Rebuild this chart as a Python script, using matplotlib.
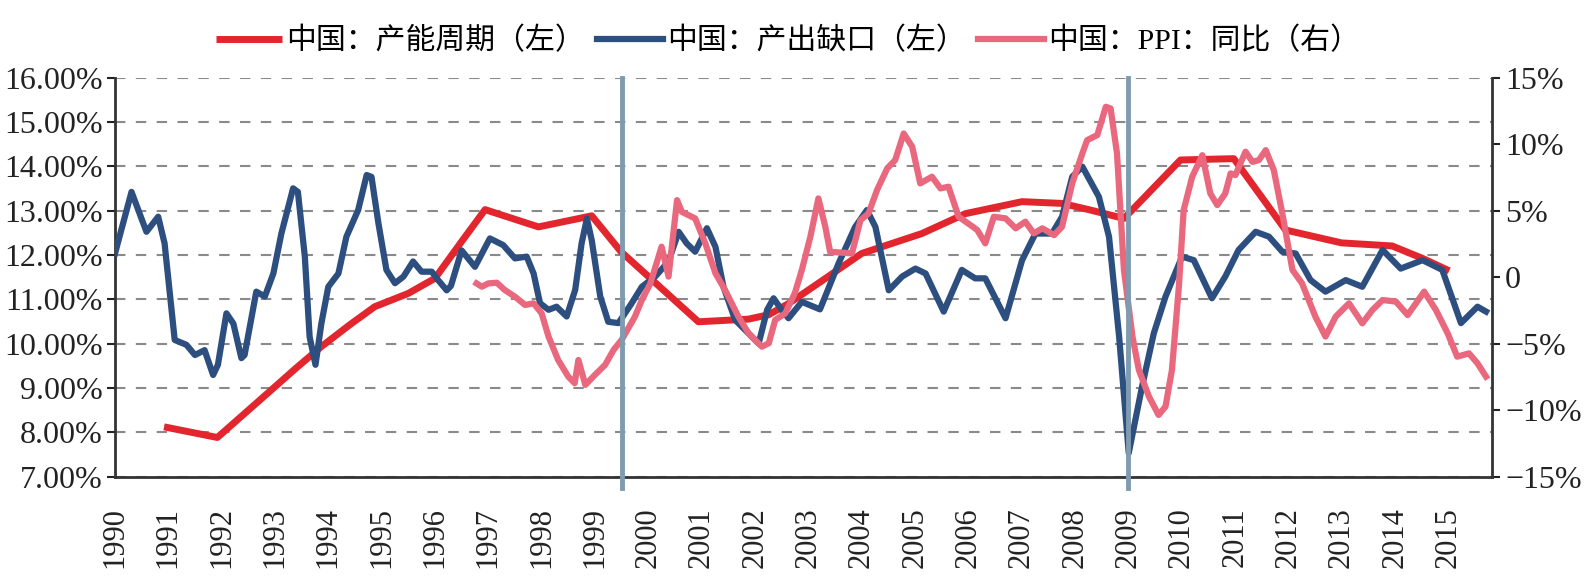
import numpy as np
import matplotlib.pyplot as plt
from matplotlib.ticker import FuncFormatter

plt.rcParams['font.family'] = ['Liberation Serif', 'Noto Sans CJK SC']

# 中国：产能周期（左）
cap_year = [1990.92, 1991.92, 1992.93, 1993.4, 1993.87, 1994.4, 1994.87, 1995.5, 1996.0, 1996.5,
            1996.94, 1997.94, 1998.94, 1999.49, 2000.94, 2001.88, 2002.26, 2002.63, 2003.3,
            2004.0, 2005.13, 2005.95, 2007.01, 2007.76, 2008.26, 2008.92, 2009.98, 2010.98,
            2011.95, 2013.0, 2013.95, 2014.52, 2015.02]
cap_val = [8.12, 7.88, 8.95, 9.45, 9.93, 10.42, 10.83, 11.13, 11.47, 12.3,
           13.02, 12.63, 12.88, 12.07, 10.49, 10.55, 10.65, 10.9, 11.45,
           12.03, 12.48, 12.93, 13.2, 13.16, 13.02, 12.82, 14.14, 14.17,
           12.56, 12.27, 12.2, 11.92, 11.64]

# 中国：产出缺口（左）
gap_year = [1990.0, 1990.31, 1990.59, 1990.81, 1990.93, 1991.12, 1991.34, 1991.5, 1991.68, 1991.84,
            1991.93, 1992.09, 1992.22, 1992.37, 1992.43, 1992.65, 1992.81, 1992.97, 1993.12, 1993.34,
            1993.43, 1993.56, 1993.65, 1993.76, 1993.87, 1994.0, 1994.19, 1994.34, 1994.56, 1994.72,
            1994.81, 1994.94, 1995.09, 1995.25, 1995.41, 1995.59, 1995.75, 1995.94, 1996.06, 1996.22,
            1996.3, 1996.5, 1996.75, 1997.03, 1997.28, 1997.5, 1997.72, 1997.85, 1997.97, 1998.13,
            1998.28, 1998.47, 1998.63, 1998.75, 1998.85, 1998.94, 1999.1, 1999.25, 1999.44, 1999.69,
            1999.88, 2000.13, 2000.38, 2000.57, 2000.72, 2000.88, 2001.1, 2001.26, 2001.41, 2001.63,
            2001.88, 2002.07, 2002.23, 2002.35, 2002.5, 2002.63, 2002.88, 2003.22, 2003.57, 2003.88,
            2004.1, 2004.26, 2004.51, 2004.76, 2005.01, 2005.2, 2005.54, 2005.88, 2006.13, 2006.32,
            2006.7, 2007.01, 2007.26, 2007.57, 2007.76, 2007.95, 2008.14, 2008.45, 2008.64, 2008.83,
            2009.01, 2009.26, 2009.48, 2009.7, 2010.01, 2010.23, 2010.57, 2010.82, 2011.07, 2011.39,
            2011.64, 2011.89, 2012.14, 2012.42, 2012.7, 2013.08, 2013.39, 2013.77, 2014.11, 2014.52,
            2014.89, 2015.24, 2015.55, 2015.71]
gap_val = [12.03, 13.42, 12.52, 12.86, 12.26, 10.08, 9.97, 9.74, 9.85, 9.29,
           9.52, 10.68, 10.45, 9.67, 9.74, 11.17, 11.06, 11.58, 12.48, 13.5,
           13.42, 11.96, 10.15, 9.52, 10.45, 11.28, 11.58, 12.41, 13.01, 13.8,
           13.76, 12.71, 11.66, 11.36, 11.51, 11.85, 11.62, 11.62, 11.43, 11.2,
           11.3, 12.1, 11.73, 12.37, 12.22, 11.92, 11.96, 11.58, 10.91, 10.76,
           10.83, 10.61, 11.21, 12.26, 12.82, 12.33, 11.06, 10.49, 10.46, 10.91,
           11.28, 11.51, 11.85, 12.52, 12.26, 12.07, 12.6, 12.18, 11.28, 10.53,
           10.23, 10.0, 10.76, 11.02, 10.76, 10.57, 10.94, 10.77, 11.81, 12.63,
           13.01, 12.63, 11.2, 11.51, 11.69, 11.58, 10.72, 11.66, 11.47, 11.47,
           10.57, 11.88, 12.48, 12.48, 12.86, 13.76, 13.99, 13.31, 12.41, 10.15,
           7.53, 9.03, 10.23, 11.06, 11.96, 11.88, 11.02, 11.51, 12.11, 12.52,
           12.41, 12.07, 12.03, 11.43, 11.17, 11.43, 11.28, 12.11, 11.69, 11.88,
           11.66, 10.46, 10.83, 10.72]

# 中国：PPI：同比（右）
ppi_year = [1996.78, 1996.88, 1997.0, 1997.16, 1997.31, 1997.5, 1997.69, 1997.85, 1998.0, 1998.13,
            1998.31, 1998.5, 1998.62, 1998.69, 1998.82, 1999.0, 1999.19, 1999.35, 1999.5, 1999.75,
            1999.88, 2000.04, 2000.25, 2000.38, 2000.54, 2000.63, 2000.88, 2001.07, 2001.26, 2001.44,
            2001.69, 2001.88, 2002.13, 2002.26, 2002.38, 2002.57, 2002.75, 2002.88, 2003.04, 2003.19,
            2003.32, 2003.41, 2003.63, 2003.82, 2003.98, 2004.13, 2004.29, 2004.48, 2004.63, 2004.79,
            2004.95, 2005.1, 2005.32, 2005.48, 2005.63, 2005.82, 2006.04, 2006.17, 2006.32, 2006.48,
            2006.7, 2006.89, 2007.07, 2007.23, 2007.39, 2007.61, 2007.76, 2007.95, 2008.14, 2008.23,
            2008.42, 2008.58, 2008.67, 2008.79, 2008.92, 2009.08, 2009.2, 2009.39, 2009.57, 2009.7,
            2009.82, 2009.95, 2010.04, 2010.2, 2010.39, 2010.54, 2010.67, 2010.82, 2010.92, 2011.01,
            2011.2, 2011.33, 2011.45, 2011.58, 2011.73, 2011.89, 2012.08, 2012.26, 2012.51, 2012.7,
            2012.89, 2013.14, 2013.39, 2013.58, 2013.77, 2014.02, 2014.24, 2014.55, 2014.77, 2014.99,
            2015.17, 2015.39, 2015.55, 2015.71]
ppi_val = [-0.48, -0.73, -0.48, -0.43, -0.98, -1.48, -2.1, -1.98, -2.73, -4.48,
           -6.24, -7.49, -7.99, -6.24, -8.11, -7.36, -6.61, -5.48, -4.73, -2.98,
           -1.73, -0.48, 2.28, 0.03, 5.78, 4.9, 4.4, 2.53, 0.28, -0.98,
           -2.98, -4.23, -5.24, -4.98, -3.23, -2.73, -1.2, 0.53, 3.03, 5.91,
           3.78, 1.9, 1.83, 1.78, 4.28, 4.78, 6.54, 8.16, 8.79, 10.79,
           9.79, 7.04, 7.54, 6.66, 6.79, 4.53, 3.91, 3.53, 2.53, 4.53,
           4.41, 3.66, 4.16, 3.28, 3.66, 3.15, 3.78, 7.04, 9.29, 10.29,
           10.67, 12.8, 12.67, 9.29, 0.53, -4.48, -6.99, -9.0, -10.37, -9.74,
           -6.99, -0.73, 5.03, 7.54, 9.16, 6.28, 5.41, 6.28, 7.79, 7.66,
           9.42, 8.66, 8.79, 9.54, 8.04, 4.78, 0.53, -0.48, -2.98, -4.48,
           -2.98, -1.98, -3.48, -2.48, -1.73, -1.85, -2.86, -1.1, -2.48, -4.23,
           -5.99, -5.74, -6.49, -7.49]

split_years = [1999.5, 2009.0]
year_ticks = list(range(1990, 2016))

fig = plt.figure(figsize=(15.86, 5.78), dpi=100)
ax = fig.add_axes([0.0725, 0.1756, 0.8685, 0.6903])
ax2 = ax.twinx()

l1, = ax.plot(cap_year, cap_val, color='#e3262e', lw=5, solid_capstyle='butt',
              label='中国：产能周期（左）', zorder=3)
l2, = ax.plot(gap_year, gap_val, color='#2d4f80', lw=4.5,
              label='中国：产出缺口（左）', zorder=4)
l3, = ax2.plot(ppi_year, ppi_val, color='#e9687e', lw=4.5,
               label='中国：PPI：同比（右）', zorder=3)
for xv in split_years:
    ax2.axvline(xv, ymin=-0.028, ymax=1, color='#7f9bb0', lw=3.5, clip_on=False, zorder=5)

ax.set_xlim(1990, 2015.83)
ax.set_ylim(7, 16)
ax2.set_ylim(-15, 15)

ax.set_yticks(np.arange(7, 16.5, 1))
ax.yaxis.set_major_formatter(FuncFormatter(lambda v, p: '%.2f%%' % v))
ax2.set_yticks(np.arange(-15, 16, 5))
ax2.yaxis.set_major_formatter(FuncFormatter(
    lambda v, p: '0' if v == 0 else ('%d%%' % v).replace('-', '\u2212')))

ax.set_xticks(year_ticks)
ax.set_xticklabels([str(y) for y in year_ticks], rotation=90)

ax.grid(axis='y', color='#8a8a8a', lw=1.5, linestyle=(0, (5, 5)))
ax.set_axisbelow(True)

for a in (ax, ax2):
    a.spines['top'].set_visible(False)
    for s in a.spines.values():
        s.set_color('#333333')
        s.set_linewidth(2)
ax.spines['right'].set_visible(False)
ax2.spines['left'].set_visible(False)
ax2.spines['bottom'].set_visible(False)

ax.tick_params(axis='x', length=0, pad=22, labelsize=22, colors='#222222')
ax.tick_params(axis='y', length=6, width=1.5, pad=3, labelsize=23, colors='#222222')
ax2.tick_params(axis='y', length=6, width=1.5, pad=3, labelsize=23, colors='#222222')

fig.legend(handles=[l1, l2, l3], loc='upper center', bbox_to_anchor=(0.497, 1.0),
           ncol=3, frameon=False, fontsize=21.5, handlelength=2.2,
           handletextpad=0.15, columnspacing=0.4)

fig.savefig('out.png', dpi=100)
